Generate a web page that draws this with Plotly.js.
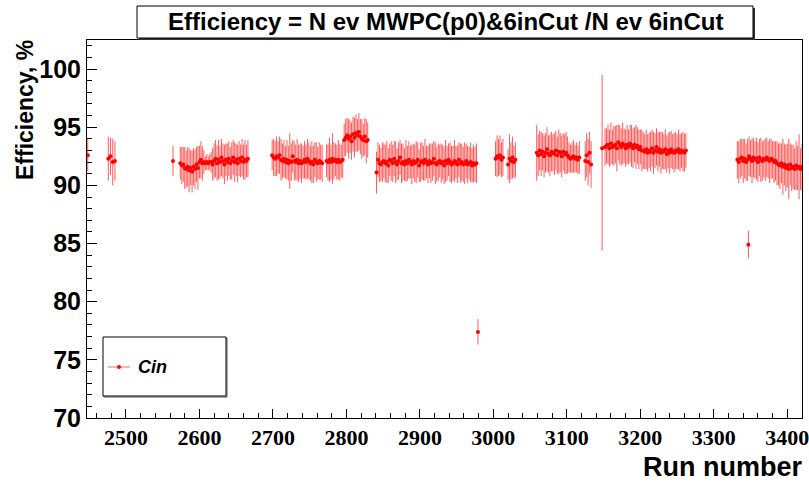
<!DOCTYPE html>
<html><head><meta charset="utf-8">
<script src="https://cdn.plot.ly/plotly-3.0.1.min.js"></script>
<style>html,body{margin:0;padding:0;background:#fff}#plot{width:809px;height:482px}</style>
</head><body><div id="plot"></div>
<script>
// ---- data: run number, efficiency (%), error (%) ----
const runsA = [2448, 2476, 2479, 2482, 2485];
const effA  = [92.6, 92.3, 92.5, 92.0, 92.1];
const errA  = [1.4, 1.9, 1.6, 2.0, 1.7];

const runsC = [2564, 2574, 2576, 2578, 2580, 2582, 2584, 2586, 2588, 2590, 2592, 2594, 2596, 2598, 2600, 2602, 2604, 2606, 2608, 2610, 2612, 2614, 2616, 2618, 2620, 2622, 2624, 2626, 2628, 2630, 2632, 2634, 2636, 2638, 2640, 2642, 2644, 2646, 2648, 2650, 2652, 2654, 2656, 2658, 2660, 2662, 2664, 2666];
const effC  = [92.1, 91.9, 91.7, 91.8, 91.5, 91.4, 91.6, 91.3, 91.5, 91.2, 91.6, 91.4, 91.8, 91.5, 92.0, 92.2, 91.9, 92.0, 91.9, 92.0, 91.9, 92.0, 92.0, 91.8, 92.1, 92.3, 91.9, 92.2, 92.0, 92.4, 92.1, 91.8, 92.2, 92.0, 92.3, 91.9, 92.1, 92.4, 92.0, 92.2, 91.9, 92.3, 92.1, 92.4, 92.0, 92.2, 92.1, 92.3];
const errC  = [1.3, 1.4, 1.6, 1.5, 1.8, 1.6, 1.7, 1.9, 1.5, 1.8, 1.6, 1.7, 1.5, 1.9, 1.4, 1.6, 1.5, 1.0, 0.6, 0.7, 0.6, 0.7, 0.9, 1.4, 1.5, 1.6, 1.5, 1.7, 1.4, 1.6, 1.5, 1.7, 1.4, 1.6, 1.5, 1.4, 1.6, 1.5, 1.7, 1.4, 1.6, 1.5, 1.4, 1.6, 1.5, 1.7, 1.4, 1.6];

const runsD = [2699, 2701, 2703, 2705, 2707, 2709, 2711, 2713, 2715, 2717, 2719, 2721, 2723, 2725, 2727, 2729, 2731, 2733, 2735, 2737, 2739, 2741, 2743, 2745, 2747, 2749, 2751, 2753, 2755, 2757, 2759, 2761, 2763, 2765, 2767, 2773, 2775, 2777, 2779, 2781, 2783, 2785, 2787, 2789, 2791, 2793, 2795];
const effD  = [92.6, 92.4, 92.3, 92.5, 92.4, 92.6, 92.2, 92.1, 92.3, 92.0, 92.2, 91.9, 92.1, 92.0, 92.5, 92.1, 92.0, 92.2, 91.9, 92.1, 91.9, 92.0, 92.2, 92.0, 92.3, 92.1, 91.9, 92.0, 91.8, 92.2, 92.0, 91.9, 92.1, 92.0, 91.9, 92.1, 92.0, 92.2, 92.0, 92.3, 92.1, 92.2, 92.0, 92.2, 92.0, 92.1, 92.2];
const errD  = [1.3, 1.6, 1.5, 1.7, 1.4, 1.6, 1.8, 1.5, 1.6, 1.4, 1.7, 1.5, 2.4, 1.6, 1.4, 1.7, 1.5, 1.8, 1.6, 1.5, 1.7, 1.4, 1.6, 1.5, 1.7, 1.6, 1.5, 1.8, 1.6, 1.5, 1.7, 1.4, 1.6, 1.5, 1.6, 1.4, 1.6, 1.9, 1.5, 2.2, 1.6, 1.4, 1.5, 1.7, 1.6, 1.4, 1.6];

const runsF = [2797, 2799, 2801, 2803, 2805, 2807, 2809, 2811, 2813, 2815, 2817, 2819, 2821, 2823, 2825, 2827, 2829];
const effF  = [93.9, 94.1, 94.3, 94.0, 94.2, 93.8, 94.4, 94.1, 94.5, 94.3, 94.6, 94.2, 94.0, 93.9, 94.2, 93.8, 93.9];
const errF  = [1.4, 1.6, 1.5, 1.7, 1.4, 1.6, 1.5, 1.7, 1.6, 1.4, 1.6, 1.5, 1.7, 1.4, 1.6, 1.9, 1.5];

const runsG = [2841, 2843, 2845, 2847, 2849, 2851, 2853, 2855, 2857, 2859, 2861, 2863, 2865, 2867, 2869, 2871, 2873, 2875, 2877, 2879, 2881, 2883, 2885, 2887, 2889, 2891, 2893, 2895, 2897, 2899, 2901, 2903, 2905, 2907, 2909, 2911, 2913, 2915, 2917, 2919, 2921, 2923, 2925, 2927, 2929, 2931, 2933, 2935, 2937, 2939, 2941, 2943, 2945, 2947, 2949, 2951, 2953, 2955, 2957, 2959, 2961, 2963, 2965, 2967, 2969, 2971, 2973, 2975, 2977];
const effG  = [91.1, 92.2, 91.9, 91.8, 92.0, 92.1, 91.9, 92.0, 91.7, 92.2,
               92.1, 91.9, 92.3, 92.0, 91.8, 92.1, 92.4, 91.9, 92.0, 91.8,
               92.1, 91.9, 92.2, 92.0, 91.8, 92.1, 91.9, 92.0, 92.2, 91.7,
               92.0, 92.1, 91.9, 92.2, 92.0, 91.8, 92.1, 91.9, 92.0, 92.3,
               91.9, 91.8, 92.0, 92.1, 91.9, 92.0, 91.7, 92.1, 91.9, 92.2,
               92.0, 91.8, 91.9, 92.1, 92.0, 91.8, 92.2, 91.9, 92.0, 91.8,
               91.9, 92.1, 91.8, 91.9, 92.0, 91.7, 91.9, 91.8, 91.9];
const errG  = [1.8, 1.5, 1.6, 1.4, 1.7, 1.5, 1.6, 1.8, 1.5, 1.4,
               1.7, 1.6, 1.5, 1.8, 1.4, 1.6, 1.5, 1.7, 1.6, 1.4,
               1.8, 1.5, 1.6, 1.4, 1.7, 1.5, 1.6, 1.8, 1.5, 1.4,
               1.7, 1.6, 1.5, 1.8, 1.4, 1.6, 1.5, 1.7, 1.6, 1.5,
               1.8, 1.5, 1.6, 1.4, 1.7, 1.5, 1.6, 1.8, 1.5, 1.4,
               1.7, 1.6, 1.5, 1.8, 1.4, 1.6, 1.5, 1.7, 1.6, 1.5,
               1.8, 1.5, 1.6, 1.4, 1.7, 1.5, 1.6, 1.5, 1.7];

const runsJ = [3003, 3005, 3007, 3009, 3011, 3013, 3020, 3022, 3024, 3026, 3028, 3030,
               3059, 3061, 3063, 3065, 3067, 3069, 3071, 3073, 3075, 3077, 3079, 3081, 3083, 3085, 3087, 3089, 3091, 3093, 3095, 3097, 3099, 3101,
               3103, 3105, 3107, 3109, 3111, 3113, 3115, 3117, 3125, 3127, 3129, 3131, 3133];
const effJ  = [92.3, 92.5, 92.4, 92.6, 92.2, 92.4, 91.8, 92.3, 92.1, 92.4, 92.0, 92.2,
               92.8, 92.6, 93.0, 92.7, 92.9, 92.5, 92.8, 93.1, 92.7, 92.6, 92.9, 92.8, 92.7, 93.0, 92.6, 92.9, 92.8, 92.5, 92.9, 92.7, 92.8, 92.6,
               92.4, 92.3, 92.4, 92.5, 92.3, 92.4, 92.2, 92.4, 92.1, 92.6, 92.0, 92.8, 91.8];
const errJ  = [1.5, 1.8, 1.6, 1.7, 1.5, 1.6, 1.3, 2.1, 1.6, 1.8, 1.4, 1.5,
               2.4, 1.8, 1.7, 1.9, 1.6, 1.8, 1.7, 1.9, 1.6, 1.8, 1.7, 1.6, 1.8, 1.7, 1.6, 1.9, 1.7, 1.8, 1.6, 1.7, 1.8, 1.6,
               1.3, 1.2, 1.3, 1.4, 1.2, 1.3, 1.2, 1.4, 1.7, 1.9, 2.0, 1.8, 2.0];

const runsL = [3152, 3154, 3156, 3158, 3160, 3162, 3164, 3166, 3168, 3170, 3172, 3174, 3176, 3178, 3180, 3182, 3184, 3186, 3188, 3190, 3192, 3194, 3196, 3198, 3200, 3202, 3204, 3206, 3208, 3210, 3212, 3214, 3216, 3218, 3220, 3222, 3224, 3226, 3228, 3230, 3232, 3234, 3236, 3238, 3240, 3242, 3244, 3246, 3248, 3250, 3252, 3254, 3256, 3258, 3260, 3262];
const effL  = [93.3, 93.4, 93.5, 93.2, 93.6, 93.3, 93.4, 93.5, 93.2, 93.7,
               93.5, 93.3, 93.6, 93.4, 93.2, 93.5, 93.3, 93.6, 93.4, 93.2,
               93.5, 93.3, 93.4, 93.1, 93.3, 93.0,
               93.0, 92.9, 93.1, 92.8, 93.0, 92.9, 93.2, 92.8, 93.0, 93.3, 92.9, 93.1, 92.8, 93.0,
               92.9, 93.1, 92.7, 93.0, 92.8, 93.1, 92.9, 92.8, 93.0, 92.9, 93.1, 92.8, 93.0, 92.9, 92.8, 93.0];
const errL  = [1.6, 1.5, 1.7, 1.6, 1.8, 1.5, 1.7, 1.6, 2.0, 1.5,
               1.7, 1.6, 1.8, 1.5, 1.6, 1.7, 1.5, 1.6, 1.8, 1.7,
               1.5, 1.9, 1.6, 1.7, 1.5, 1.8,
               1.6, 1.5, 1.7, 1.6, 1.5, 1.7, 1.6, 1.8, 1.5, 1.6, 1.7, 1.5, 1.8, 1.6,
               1.5, 1.7, 1.6, 1.5, 1.8, 1.6, 1.5, 1.7, 1.6, 1.5, 1.7, 1.6, 1.5, 1.7, 1.6, 1.5];

const runsM = [3332, 3334, 3336, 3338, 3340, 3342, 3344, 3346, 3348, 3350, 3352, 3354, 3356, 3358, 3360, 3362, 3364, 3366, 3368, 3370, 3372, 3374, 3376, 3378, 3380, 3382, 3384, 3386, 3388, 3390, 3392, 3394, 3396, 3398, 3400, 3402, 3404, 3406, 3408, 3410, 3412, 3414, 3416, 3418, 3420];
const effM  = [92.2, 92.0, 92.3, 92.4, 92.1, 92.3, 92.0, 92.2, 92.5, 92.3,
               92.1, 92.4, 92.2, 92.3, 92.0, 92.4, 92.2, 92.1, 92.3, 92.2,
               92.4, 92.2, 92.1, 92.3, 92.2, 92.0, 92.1, 91.9, 91.8, 91.7,
               91.9, 91.6, 91.8, 91.5, 91.7, 91.4, 91.8, 91.5, 91.6, 91.4,
               91.7, 91.5, 91.6, 91.4, 91.6];
const errM  = [1.6, 1.8, 1.7, 1.6, 1.9, 1.7, 1.6, 1.8, 1.7, 1.6,
               1.9, 1.7, 1.6, 1.8, 1.7, 1.6, 1.9, 1.7, 1.6, 1.8,
               1.7, 1.6, 1.9, 1.7, 1.6, 1.8, 1.7, 1.9, 1.8, 2.0,
               1.7, 2.4, 1.8, 2.0, 1.9, 2.6, 1.8, 2.0, 1.9, 1.8,
               2.1, 1.9, 2.8, 1.8, 2.0];

// isolated points: low outliers and the large-uncertainty run
const runsOut   = [2979, 3347, 3148];
const effOut    = [77.4, 84.9, 93.2];
const errOutUp  = [1.1, 1.2, 6.3];
const errOutLow = [1.1, 1.2, 8.8];

const titleText = 'Efficiency = N ev MWPC(p0)&amp;6inCut /N ev 6inCut';
const xTitle = 'Run number';
const yTitle = 'Efficiency, %';
const legendName = 'Cin';

const runs = [].concat(runsA, runsC, runsD, runsF, runsG, runsJ, runsL, runsM, runsOut);
const eff  = [].concat(effA, effC, effD, effF, effG, effJ, effL, effM, effOut);
const errHi = [].concat(errA, errC, errD, errF, errG, errJ, errL, errM, errOutUp);
const errLo = [].concat(errA, errC, errD, errF, errG, errJ, errL, errM, errOutLow);

// ---- geometry helpers (pixel -> paper) ----
const L = 87, R = 802, T = 40, B = 418;
const px = x => (x - L) / (R - L);
const py = y => (B - y) / (B - T);

const trace = {
  x: runs, y: eff, type: 'scatter', mode: 'markers', name: legendName,
  marker: {color: '#ff0000', size: 4, symbol: 'circle'},
  error_y: {type: 'data', symmetric: false, array: errHi, arrayminus: errLo, visible: true,
            color: 'rgba(255,0,0,0.65)', thickness: 1, width: 0},
  showlegend: false, cliponaxis: true
};

const sans = 'Liberation Sans, Arial, Helvetica, sans-serif';
const serif = '"Liberation Serif", "Times New Roman", serif';
const layout = {
  width: 809, height: 482,
  margin: {l: L, r: 809 - R, t: T, b: 482 - B, pad: 0},
  paper_bgcolor: '#ffffff', plot_bgcolor: '#ffffff',
  showlegend: false,
  xaxis: {
    range: [2447, 3420], tick0: 2500, dtick: 100, ticks: 'inside', ticklen: 9, tickcolor: '#000',
    showline: true, linecolor: '#000', linewidth: 1, mirror: true, showgrid: false, zeroline: false,
    ticklabeloverflow: 'allow',
    tickfont: {family: serif, size: 22, color: '#000', weight: 'bold'},
    minor: {dtick: 20, ticks: 'inside', ticklen: 5, tickcolor: '#000', showgrid: false}
  },
  yaxis: {
    range: [70, 102.5], tick0: 70, dtick: 5, ticks: 'inside', ticklen: 10, tickcolor: '#000',
    showline: true, linecolor: '#000', linewidth: 1, mirror: true, showgrid: false, zeroline: false,
    tickfont: {family: sans, size: 25, color: '#000', weight: 'bold'},
    minor: {dtick: 1, ticks: 'inside', ticklen: 5, tickcolor: '#000', showgrid: false}
  },
  shapes: [
    {type: 'rect', xref: 'paper', yref: 'paper', x0: px(139), x1: px(755), y0: py(40), y1: py(8), fillcolor: '#333', line: {width: 0}, layer: 'above'},
    {type: 'rect', xref: 'paper', yref: 'paper', x0: px(137), x1: px(753), y0: py(38), y1: py(6), fillcolor: '#fff', line: {color: '#000', width: 1}, layer: 'above'},
    {type: 'rect', xref: 'paper', yref: 'paper', x0: px(104), x1: px(227), y0: py(397), y1: py(338), fillcolor: 'rgba(0,0,0,0)', line: {color: '#555', width: 1}, layer: 'above'},
    {type: 'rect', xref: 'paper', yref: 'paper', x0: px(103), x1: px(226), y0: py(396), y1: py(337), fillcolor: '#fff', line: {color: '#000', width: 1}, layer: 'above'},
    {type: 'line', xref: 'paper', yref: 'paper', x0: px(108), x1: px(130), y0: py(367), y1: py(367), line: {color: 'rgba(255,0,0,0.6)', width: 1}, layer: 'above'},
    {type: 'circle', xref: 'paper', yref: 'paper', x0: px(117), x1: px(121), y0: py(369), y1: py(365), fillcolor: '#ff0000', line: {color: '#ff0000', width: 0}, layer: 'above'}
  ],
  annotations: [
    {text: titleText, xref: 'paper', yref: 'paper', x: px(445), y: py(22), xanchor: 'center', yanchor: 'middle', showarrow: false,
     font: {family: sans, size: 24, color: '#000', weight: 'bold'}},
    {text: xTitle, xref: 'paper', yref: 'paper', x: px(804), y: py(467), xanchor: 'right', yanchor: 'middle', showarrow: false,
     font: {family: sans, size: 27, color: '#000', weight: 'bold'}},
    {text: yTitle, xref: 'paper', yref: 'paper', x: px(25), y: py(110), xanchor: 'center', yanchor: 'middle', showarrow: false, textangle: -90,
     font: {family: sans, size: 23, color: '#000', weight: 'bold'}},
    {text: legendName, xref: 'paper', yref: 'paper', x: px(136), y: py(367), xanchor: 'left', yanchor: 'middle', showarrow: false,
     font: {family: sans, size: 18, color: '#000', weight: 'bold', style: 'italic'}}
  ]
};

Plotly.newPlot('plot', [trace], layout, {staticPlot: true, displayModeBar: false});
</script>
</body></html>
